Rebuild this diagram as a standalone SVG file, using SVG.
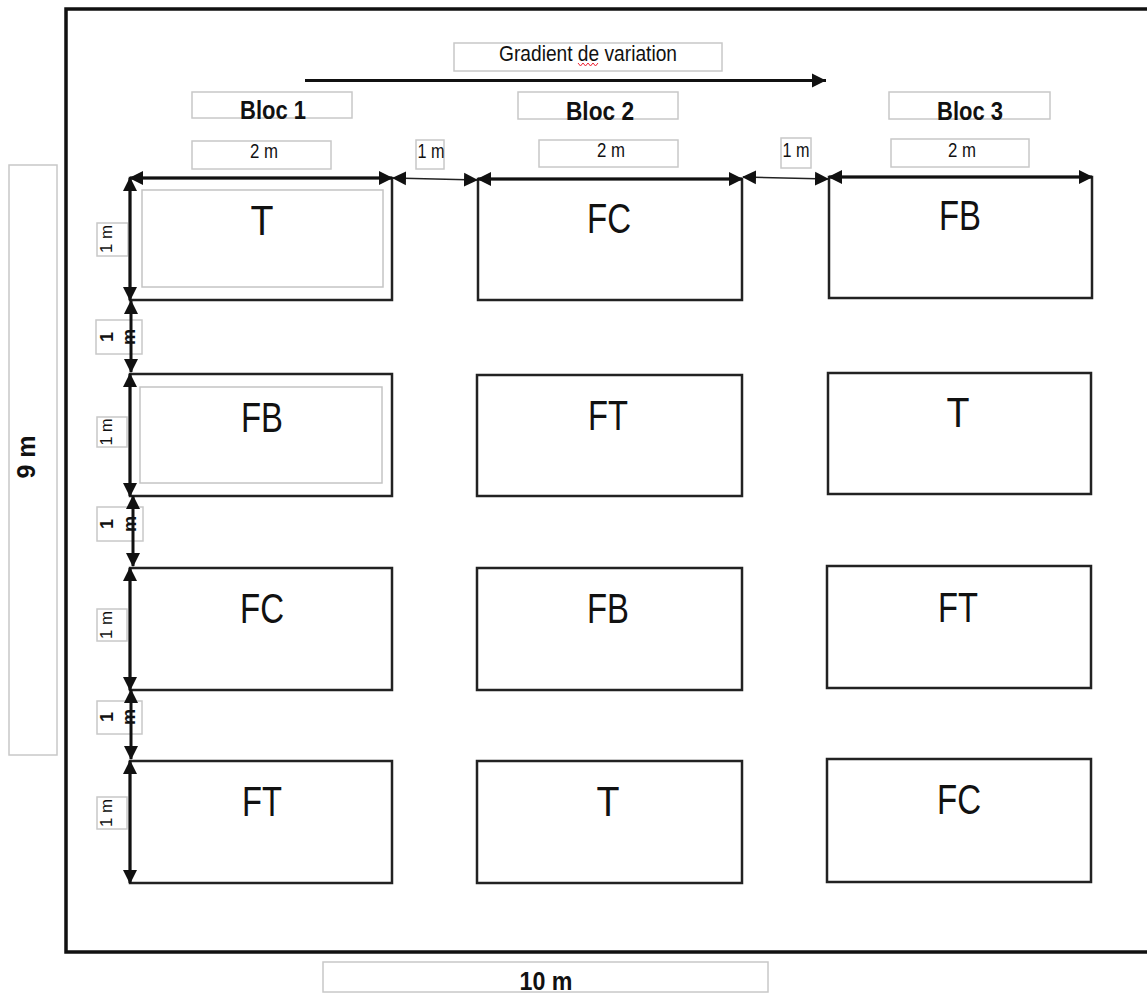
<svg xmlns="http://www.w3.org/2000/svg" width="1147" height="994" viewBox="0 0 1147 994">
<style>
.plot{fill:#fff;stroke:#222;stroke-width:2.5}
.inner{fill:none;stroke:#c4c4c4;stroke-width:1.5}
.box{fill:#fff;stroke:#c8c8c8;stroke-width:1.5}
.lbl{font-family:"Liberation Sans",Arial,sans-serif;font-size:42px;fill:#111;text-anchor:middle}
.bloc{font-family:"Liberation Sans",Arial,sans-serif;font-size:25px;font-weight:bold;fill:#111;text-anchor:middle}
.dim{font-family:"Liberation Sans",Arial,sans-serif;font-size:20px;fill:#111;text-anchor:middle}
.vdim{font-family:"Liberation Sans",Arial,sans-serif;font-size:17px;fill:#111;text-anchor:middle}
.bdim{font-family:"Liberation Sans",Arial,sans-serif;font-size:18px;font-weight:bold;fill:#111;text-anchor:middle}
.big{font-family:"Liberation Sans",Arial,sans-serif;font-size:25px;font-weight:bold;fill:#111;text-anchor:middle}
.thick{stroke:#111;stroke-width:3;fill:none;marker-start:url(#ah);marker-end:url(#ah)}
.thin{stroke:#222;stroke-width:1.5;fill:none;marker-start:url(#ah);marker-end:url(#ah)}
</style>
<defs>
<marker id="ah" markerUnits="userSpaceOnUse" markerWidth="14" markerHeight="15" refX="13" refY="7.5" orient="auto-start-reverse" viewBox="0 0 14 15">
<path d="M0,0.5 L14,7.5 L0,14.5 z" fill="#111"/>
</marker>
<marker id="ahg" markerUnits="userSpaceOnUse" markerWidth="16" markerHeight="16" refX="14" refY="7" orient="auto" viewBox="0 0 16 14">
<path d="M0,0 L14,7 L0,14 z" fill="#111"/>
</marker>
</defs>
<rect width="1147" height="994" fill="#fff"/>
<path d="M1150,9 H66 V952 H1150" fill="none" stroke="#111" stroke-width="3.5"/>

<g id="gradient">
<rect class="box" x="454" y="43" width="268" height="28"/>
<text x="588" y="61" font-family="'Liberation Sans',Arial,sans-serif" font-size="22" fill="#111" text-anchor="middle" textLength="178" lengthAdjust="spacingAndGlyphs">Gradient de variation</text>
<path d="M578,63 l2.5,3 l2.5,-3 l2.5,3 l2.5,-3 l2.5,3 l2.5,-3 l2.5,3 l2.5,-3" fill="none" stroke="#e23" stroke-width="1"/>
</g>

<g id="blocs">
<rect class="box" x="192" y="92" width="160" height="26"/>
<text class="bloc" x="273" y="119" textLength="66" lengthAdjust="spacingAndGlyphs">Bloc 1</text>
<rect class="box" x="518" y="92" width="160" height="27"/>
<text class="bloc" x="600" y="120" textLength="68" lengthAdjust="spacingAndGlyphs">Bloc 2</text>
<rect class="box" x="889" y="92" width="161" height="27"/>
<text class="bloc" x="970" y="120" textLength="66" lengthAdjust="spacingAndGlyphs">Bloc 3</text>
</g>

<g id="width-labels">
<rect class="box" x="192" y="141" width="139" height="28"/>
<text class="dim" x="264" y="158" textLength="28" lengthAdjust="spacingAndGlyphs">2 m</text>
<rect class="box" x="539" y="140" width="139" height="27"/>
<text class="dim" x="611" y="157" textLength="28" lengthAdjust="spacingAndGlyphs">2 m</text>
<rect class="box" x="891" y="139" width="138" height="28"/>
<text class="dim" x="962" y="157" textLength="28" lengthAdjust="spacingAndGlyphs">2 m</text>
<rect class="box" x="416" y="140" width="28" height="29"/>
<text class="dim" x="431" y="158" textLength="27" lengthAdjust="spacingAndGlyphs">1 m</text>
<rect class="box" x="781" y="138" width="30" height="30"/>
<text class="dim" x="796" y="157" textLength="27" lengthAdjust="spacingAndGlyphs">1 m</text>
</g>

<g id="side-labels">
<rect class="box" x="9" y="165" width="48" height="590"/>
<text class="big" transform="translate(35,457) rotate(-90)" x="0" y="0" textLength="43" lengthAdjust="spacingAndGlyphs">9 m</text>
<rect class="box" x="323" y="962" width="445" height="30"/>
<text class="big" x="546" y="990" textLength="53" lengthAdjust="spacingAndGlyphs">10 m</text>
</g>

<g id="plot-b1-r1">
<rect class="plot" x="130" y="178" width="262" height="122"/>
<rect class="inner" x="142" y="190" width="241" height="97"/>
<text class="lbl" x="262" y="235" textLength="23" lengthAdjust="spacingAndGlyphs">T</text>
</g>
<g id="plot-b1-r2">
<rect class="plot" x="130" y="374" width="262" height="122"/>
<rect class="inner" x="140" y="387" width="242" height="96"/>
<text class="lbl" x="262" y="432" textLength="42" lengthAdjust="spacingAndGlyphs">FB</text>
</g>
<g id="plot-b1-r3">
<rect class="plot" x="130" y="568" width="262" height="122"/>
<text class="lbl" x="262" y="623" textLength="44" lengthAdjust="spacingAndGlyphs">FC</text>
</g>
<g id="plot-b1-r4">
<rect class="plot" x="130" y="761" width="262" height="122"/>
<text class="lbl" x="262" y="816" textLength="40" lengthAdjust="spacingAndGlyphs">FT</text>
</g>

<g id="plot-b2-r1">
<rect class="plot" x="478" y="179" width="264" height="121"/>
<text class="lbl" x="609" y="233" textLength="44" lengthAdjust="spacingAndGlyphs">FC</text>
</g>
<g id="plot-b2-r2">
<rect class="plot" x="477" y="375" width="265" height="121"/>
<text class="lbl" x="608" y="430" textLength="40" lengthAdjust="spacingAndGlyphs">FT</text>
</g>
<g id="plot-b2-r3">
<rect class="plot" x="477" y="568" width="265" height="122"/>
<text class="lbl" x="608" y="623" textLength="42" lengthAdjust="spacingAndGlyphs">FB</text>
</g>
<g id="plot-b2-r4">
<rect class="plot" x="477" y="761" width="265" height="122"/>
<text class="lbl" x="608" y="816" textLength="23" lengthAdjust="spacingAndGlyphs">T</text>
</g>

<g id="plot-b3-r1">
<rect class="plot" x="829" y="177" width="263" height="121"/>
<text class="lbl" x="960" y="230" textLength="42" lengthAdjust="spacingAndGlyphs">FB</text>
</g>
<g id="plot-b3-r2">
<rect class="plot" x="828" y="373" width="263" height="121"/>
<text class="lbl" x="958" y="427" textLength="23" lengthAdjust="spacingAndGlyphs">T</text>
</g>
<g id="plot-b3-r3">
<rect class="plot" x="827" y="566" width="264" height="122"/>
<text class="lbl" x="958" y="622" textLength="40" lengthAdjust="spacingAndGlyphs">FT</text>
</g>
<g id="plot-b3-r4">
<rect class="plot" x="827" y="759" width="264" height="123"/>
<text class="lbl" x="959" y="814" textLength="44" lengthAdjust="spacingAndGlyphs">FC</text>
</g>

<g id="height-labels">
<rect class="box" x="97" y="223" width="31" height="33"/>
<text class="vdim" transform="translate(112,239) rotate(-90)" textLength="28" lengthAdjust="spacingAndGlyphs">1 m</text>
<rect class="box" x="97" y="417" width="30" height="30"/>
<text class="vdim" transform="translate(112,432) rotate(-90)" textLength="27" lengthAdjust="spacingAndGlyphs">1 m</text>
<rect class="box" x="97" y="609" width="30" height="32"/>
<text class="vdim" transform="translate(112,625) rotate(-90)" textLength="28" lengthAdjust="spacingAndGlyphs">1 m</text>
<rect class="box" x="97" y="797" width="30" height="32"/>
<text class="vdim" transform="translate(112,813) rotate(-90)" textLength="28" lengthAdjust="spacingAndGlyphs">1 m</text>
<rect class="box" x="96" y="320" width="46" height="34"/>
<rect class="box" x="97" y="507" width="46" height="34"/>
<rect class="box" x="97" y="701" width="45" height="33"/>
</g>

<g id="connectors">
<path class="thick" d="M130,178 H392"/>
<path class="thick" d="M478,179 H742"/>
<path class="thick" d="M829,177 H1092"/>
<path class="thin" d="M393,178 L477,180"/>
<path class="thin" d="M743,177 L828,179"/>
<path class="thick" d="M130,178 V300"/>
<path class="thick" d="M130,374 V496"/>
<path class="thick" d="M130,568 V690"/>
<path class="thick" d="M130,761 V883"/>
<path class="thick" d="M131,301 V372"/>
<path class="thick" d="M133,496 V566"/>
<path class="thick" d="M131,690 V759"/>
<path d="M305,80.5 H826" stroke="#111" stroke-width="3" fill="none" marker-end="url(#ahg)"/>
</g>

<g id="gap-labels">
<text class="bdim" transform="translate(113,337) rotate(-90)">1</text>
<text class="bdim" transform="translate(135,337) rotate(-90)">m</text>
<text class="bdim" transform="translate(113,524) rotate(-90)">1</text>
<text class="bdim" transform="translate(136,524) rotate(-90)">m</text>
<text class="bdim" transform="translate(113,717) rotate(-90)">1</text>
<text class="bdim" transform="translate(135,717) rotate(-90)">m</text>
</g>
</svg>
